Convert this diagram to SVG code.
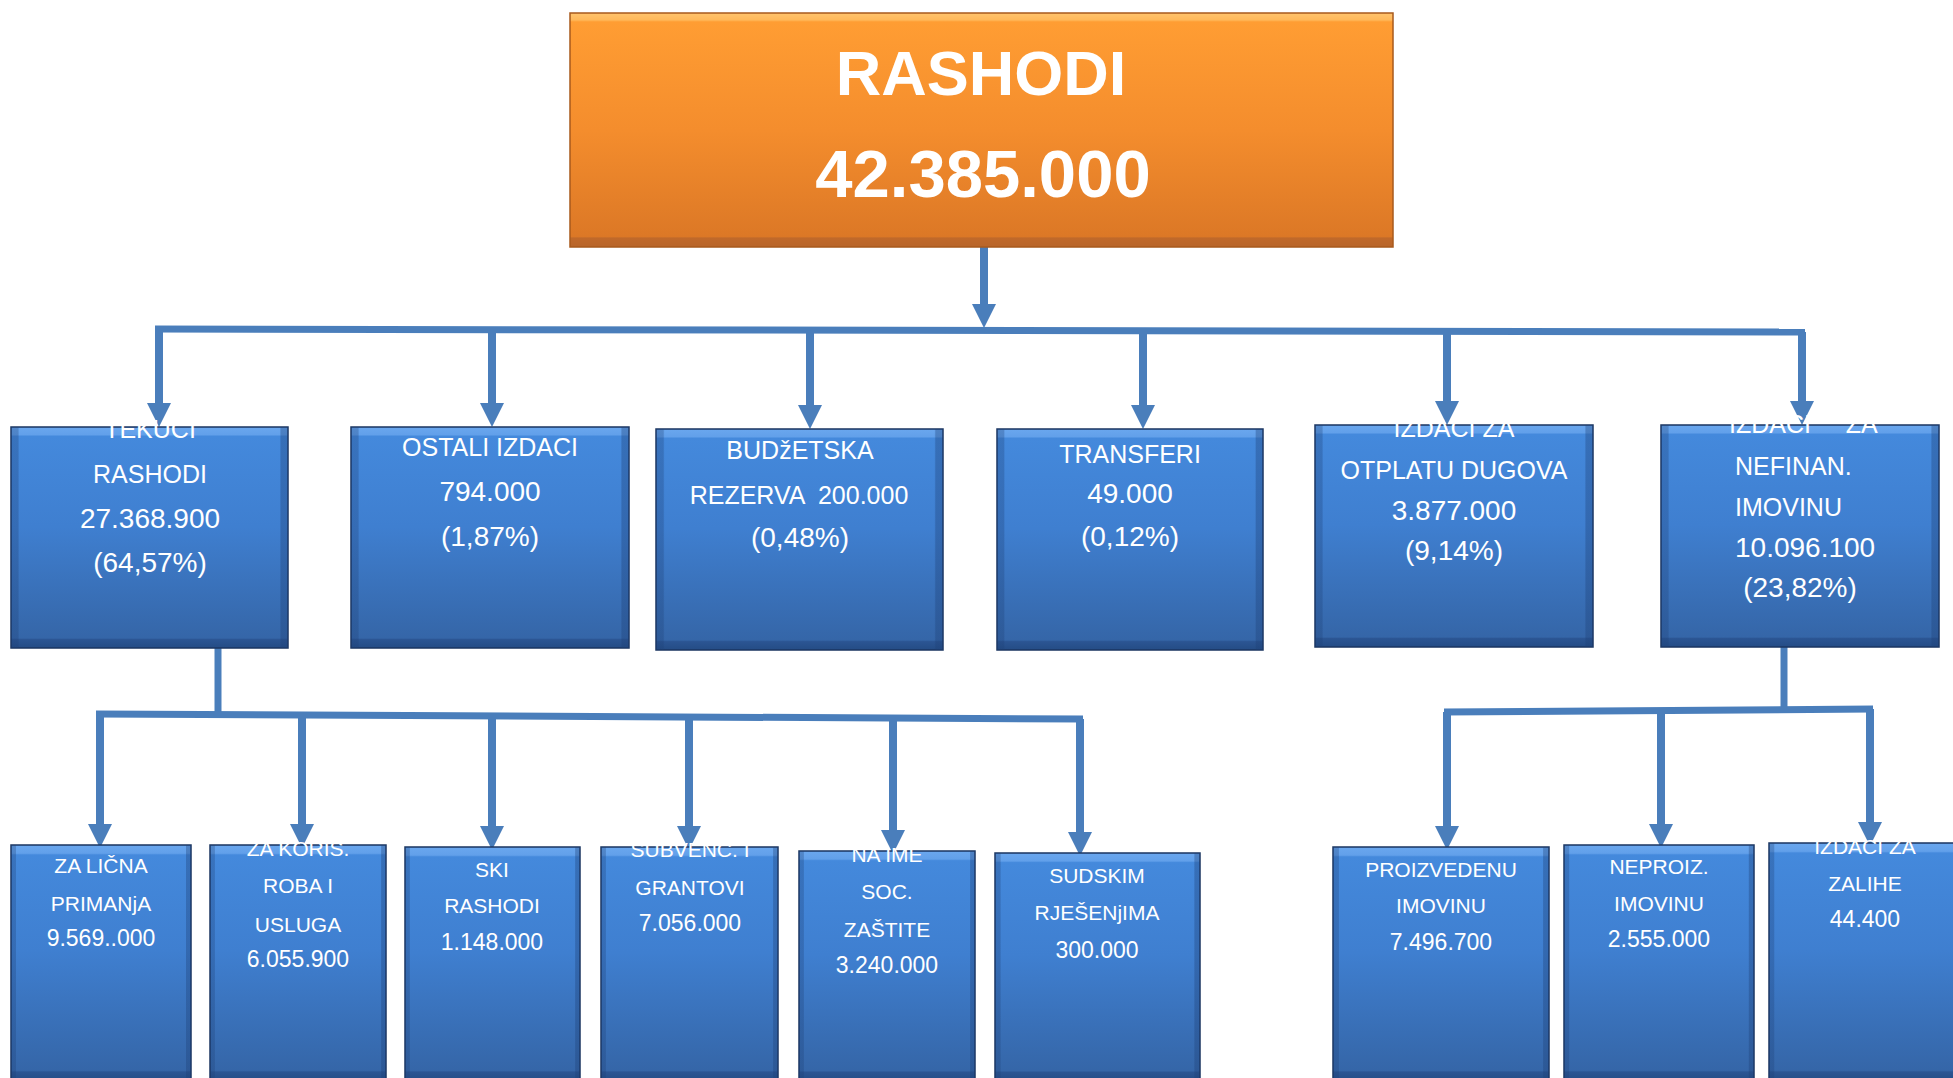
<svg xmlns="http://www.w3.org/2000/svg" width="1953" height="1078" viewBox="0 0 1953 1078">
<style>
.box{fill:url(#gBlue);stroke:#1a3560;stroke-width:1.5}
.edge{fill:url(#gEdge)}
.obox{fill:url(#gOrange);stroke:#a85a1c;stroke-width:1.5}
.t{fill:#fff;font-family:"Liberation Sans",Arial,sans-serif;text-anchor:middle}
.big{font-size:63px;font-weight:bold}
.bign{font-size:67px;font-weight:bold}
.w{font-size:25px}
.n{font-size:28px}
.lw{font-size:21px}
.ln{font-size:23px}
.pre{white-space:pre}
.c{fill:none;stroke:#4a7ebb;stroke-width:7}
.ca{fill:none;stroke:#4a7ebb;stroke-width:8;marker-end:url(#ah)}
</style>
<defs>
<linearGradient id="gBlue" x1="0" y1="0" x2="0" y2="1">
<stop offset="0" stop-color="#6aa7ee"/>
<stop offset="0.035" stop-color="#62a0ea"/>
<stop offset="0.042" stop-color="#4489dc"/>
<stop offset="0.45" stop-color="#3f7fd0"/>
<stop offset="0.955" stop-color="#3566a8"/>
<stop offset="0.962" stop-color="#2b5593"/>
<stop offset="1" stop-color="#244c85"/>
</linearGradient>
<linearGradient id="gEdge" x1="0" y1="0" x2="1" y2="0">
<stop offset="0" stop-color="#1d3f75" stop-opacity="0.3"/>
<stop offset="0.025" stop-color="#1d3f75" stop-opacity="0.3"/>
<stop offset="0.03" stop-color="#1d3f75" stop-opacity="0"/>
<stop offset="0.97" stop-color="#1d3f75" stop-opacity="0"/>
<stop offset="0.975" stop-color="#1d3f75" stop-opacity="0.35"/>
<stop offset="1" stop-color="#1d3f75" stop-opacity="0.35"/>
</linearGradient>
<linearGradient id="gOrange" x1="0" y1="0" x2="0" y2="1">
<stop offset="0" stop-color="#ffc46e"/>
<stop offset="0.03" stop-color="#ffb85a"/>
<stop offset="0.038" stop-color="#ff9d33"/>
<stop offset="0.5" stop-color="#f48d2d"/>
<stop offset="0.955" stop-color="#dc7826"/>
<stop offset="0.962" stop-color="#c0692a"/>
<stop offset="1" stop-color="#b8652a"/>
</linearGradient>
<marker id="ah" viewBox="0 0 24 24" refX="12" refY="12" markerWidth="24" markerHeight="24" markerUnits="userSpaceOnUse" orient="auto">
<path d="M0,0 L24,12 L0,24 z" fill="#4a7ebb"/>
</marker>
</defs>
<rect width="1953" height="1078" fill="#fff"/>

<g id="connectors">
<path class="ca" d="M984,247 V316"/>
<path class="c" d="M155,329 L1805,332"/>
<path class="ca" d="M159,329 V415"/>
<path class="ca" d="M492,330 V415"/>
<path class="ca" d="M810,330 V417"/>
<path class="ca" d="M1143,331 V417"/>
<path class="ca" d="M1447,331 V413"/>
<path class="ca" d="M1802,332 V413"/>
<path class="c" d="M218,648 V716"/>
<path class="c" d="M96,714 L1083,719"/>
<path class="ca" d="M100,714 V836"/>
<path class="ca" d="M302,715 V836"/>
<path class="ca" d="M492,716 V838"/>
<path class="ca" d="M689,717 V838"/>
<path class="ca" d="M893,718 V842"/>
<path class="ca" d="M1080,719 V844"/>
<path class="c" d="M1784,647 V712"/>
<path class="c" d="M1444,712 L1873,709"/>
<path class="ca" d="M1447,712 V838"/>
<path class="ca" d="M1661,711 V836"/>
<path class="ca" d="M1870,709 V834"/>
</g>

<g id="rashodi">
<rect class="obox" x="570" y="13" width="823" height="234"/>
<text class="t big" x="981" y="95">RASHODI</text>
<text class="t bign" x="983" y="197">42.385.000</text>
</g>

<g id="tekuci">
<rect class="box" x="11" y="427" width="277" height="221"/>
<rect class="edge" x="11" y="427" width="277" height="221"/>
<text class="t w" x="150" y="438">TEKUĆI</text>
<text class="t w" x="150" y="483">RASHODI</text>
<text class="t n" x="150" y="528">27.368.900</text>
<text class="t n" x="150" y="572">(64,57%)</text>
</g>

<g id="ostali">
<rect class="box" x="351" y="427" width="278" height="221"/>
<rect class="edge" x="351" y="427" width="278" height="221"/>
<text class="t w" x="490" y="456">OSTALI IZDACI</text>
<text class="t n" x="490" y="501">794.000</text>
<text class="t n" x="490" y="546">(1,87%)</text>
</g>

<g id="rezerva">
<rect class="box" x="656" y="429" width="287" height="221"/>
<rect class="edge" x="656" y="429" width="287" height="221"/>
<text class="t w" x="800" y="459">BUDžETSKA</text>
<text class="t w pre" xml:space="preserve" x="799" y="504">REZERVA  200.000</text>
<text class="t n" x="800" y="547">(0,48%)</text>
</g>

<g id="transferi">
<rect class="box" x="997" y="429" width="266" height="221"/>
<rect class="edge" x="997" y="429" width="266" height="221"/>
<text class="t w" x="1130" y="463">TRANSFERI</text>
<text class="t n" x="1130" y="503">49.000</text>
<text class="t n" x="1130" y="546">(0,12%)</text>
</g>

<g id="otplata">
<rect class="box" x="1315" y="425" width="278" height="222"/>
<rect class="edge" x="1315" y="425" width="278" height="222"/>
<text class="t w" x="1454" y="437">IZDACI ZA</text>
<text class="t w" x="1454" y="479">OTPLATU DUGOVA</text>
<text class="t n" x="1454" y="520">3.877.000</text>
<text class="t n" x="1454" y="560">(9,14%)</text>
</g>

<g id="nefinan">
<rect class="box" x="1661" y="425" width="278" height="222"/>
<rect class="edge" x="1661" y="425" width="278" height="222"/>
<text class="t w pre" xml:space="preserve" x="1729" y="433" style="text-anchor:start">IZDACI     ZA</text>
<text class="t w" x="1735" y="475" style="text-anchor:start">NEFINAN.</text>
<text class="t w" x="1735" y="516" style="text-anchor:start">IMOVINU</text>
<text class="t n" x="1735" y="557" style="text-anchor:start">10.096.100</text>
<text class="t n" x="1800" y="597">(23,82%)</text>
</g>

<g id="licna">
<rect class="box" x="11" y="845" width="180" height="236"/>
<rect class="edge" x="11" y="845" width="180" height="236"/>
<text class="t lw" x="101" y="873">ZA LIČNA</text>
<text class="t lw" x="101" y="911">PRIMANjA</text>
<text class="t ln" x="101" y="946">9.569..000</text>
</g>

<g id="roba">
<rect class="box" x="210" y="845" width="176" height="236"/>
<rect class="edge" x="210" y="845" width="176" height="236"/>
<text class="t lw" x="298" y="856">ZA KORIS.</text>
<text class="t lw" x="298" y="893">ROBA I</text>
<text class="t lw" x="298" y="932">USLUGA</text>
<text class="t ln" x="298" y="967">6.055.900</text>
</g>

<g id="finansijski">
<rect class="box" x="405" y="847" width="175" height="234"/>
<rect class="edge" x="405" y="847" width="175" height="234"/>
<text class="t lw" x="492" y="877">SKI</text>
<text class="t lw" x="492" y="913">RASHODI</text>
<text class="t ln" x="492" y="950">1.148.000</text>
</g>

<g id="subvencije">
<rect class="box" x="601" y="847" width="177" height="234"/>
<rect class="edge" x="601" y="847" width="177" height="234"/>
<text class="t lw" x="690" y="857">SUBVENC. I</text>
<text class="t lw" x="690" y="895">GRANTOVI</text>
<text class="t ln" x="690" y="931">7.056.000</text>
</g>

<g id="socijalna">
<rect class="box" x="799" y="851" width="176" height="230"/>
<rect class="edge" x="799" y="851" width="176" height="230"/>
<text class="t lw" x="887" y="862">NA IME</text>
<text class="t lw" x="887" y="899">SOC.</text>
<text class="t lw" x="887" y="937">ZAŠTITE</text>
<text class="t ln" x="887" y="973">3.240.000</text>
</g>

<g id="sudska">
<rect class="box" x="995" y="853" width="205" height="228"/>
<rect class="edge" x="995" y="853" width="205" height="228"/>
<text class="t lw" x="1097" y="883">SUDSKIM</text>
<text class="t lw" x="1097" y="920">RJEŠENjIMA</text>
<text class="t ln" x="1097" y="958">300.000</text>
</g>

<g id="proizvedena">
<rect class="box" x="1333" y="847" width="216" height="234"/>
<rect class="edge" x="1333" y="847" width="216" height="234"/>
<text class="t lw" x="1441" y="877">PROIZVEDENU</text>
<text class="t lw" x="1441" y="913">IMOVINU</text>
<text class="t ln" x="1441" y="950">7.496.700</text>
</g>

<g id="neproizvedena">
<rect class="box" x="1564" y="845" width="190" height="236"/>
<rect class="edge" x="1564" y="845" width="190" height="236"/>
<text class="t lw" x="1659" y="874">NEPROIZ.</text>
<text class="t lw" x="1659" y="911">IMOVINU</text>
<text class="t ln" x="1659" y="947">2.555.000</text>
</g>

<g id="zalihe">
<rect class="box" x="1769" y="843" width="192" height="238"/>
<rect class="edge" x="1769" y="843" width="192" height="238"/>
<text class="t lw" x="1865" y="854">IZDACI ZA</text>
<text class="t lw" x="1865" y="891">ZALIHE</text>
<text class="t ln" x="1865" y="927">44.400</text>
</g>
</svg>
